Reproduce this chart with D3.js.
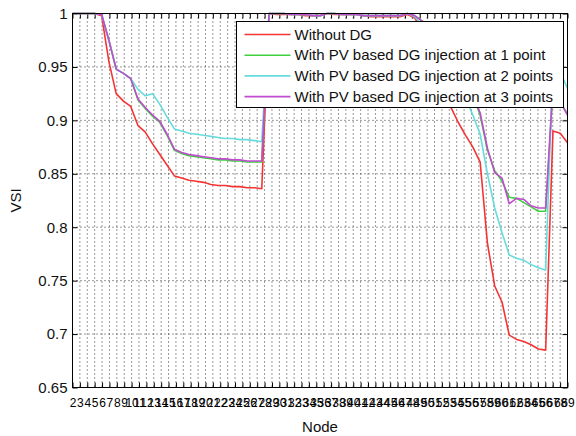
<!DOCTYPE html>
<html>
<head>
<meta charset="utf-8">
<script src="https://cdn.jsdelivr.net/npm/d3@7"></script>
<style>
  body { margin: 0; background: #fff; }
  text { font-family: "Liberation Sans", Arial, sans-serif; fill: #111; }
</style>
</head>
<body>
<div id="chart"></div>
<script>
// Node numbers (x data)
const nodes = [1, 2, 3, 4, 5, 6, 7, 8, 9, 10, 11, 12, 13, 14, 15, 16, 17, 18, 19, 20,
  21, 22, 23, 24, 25, 26, 27, 28, 29, 30, 31, 32, 33, 34, 35, 36, 37, 38, 39, 40,
  41, 42, 43, 44, 45, 46, 47, 48, 49, 50, 51, 52, 53, 54, 55, 56, 57, 58, 59, 60,
  61, 62, 63, 64, 65, 66, 67, 68, 69];

// tick labels along the bottom
const xTickLabels = nodes.slice(1);
const yTicks = [0.65, 0.7, 0.75, 0.8, 0.85, 0.9, 0.95, 1];

// VSI values, node 1..69
const withoutDG = [
  1.000, 1.000, 1.000, 1.000, 0.998, 0.955, 0.925, 0.918, 0.913, 0.895,
  0.889, 0.878, 0.868, 0.858, 0.848, 0.846, 0.844, 0.843, 0.842, 0.840,
  0.839, 0.839, 0.838, 0.838, 0.837, 0.837, 0.836, 1.000, 0.999, 0.999,
  0.999, 0.999, 0.998, 0.998, 0.998, 1.000, 0.999, 0.999, 0.999, 0.999,
  0.998, 0.997, 0.997, 0.997, 0.997, 0.997, 0.999, 0.996, 0.985, 0.975,
  0.945, 0.925, 0.912, 0.898, 0.886, 0.875, 0.861, 0.785, 0.745, 0.730,
  0.699, 0.695, 0.693, 0.690, 0.686, 0.685, 0.890, 0.888, 0.879];

const pv1 = [
  1.000, 1.000, 1.000, 1.000, 0.999, 0.975, 0.948, 0.944, 0.939, 0.919,
  0.911, 0.904, 0.898, 0.886, 0.872, 0.869, 0.867, 0.866, 0.865, 0.864,
  0.863, 0.863, 0.862, 0.862, 0.861, 0.861, 0.861, 1.000, 1.000, 1.000,
  0.999, 0.999, 0.999, 0.998, 0.998, 1.000, 1.000, 0.999, 0.999, 0.999,
  0.998, 0.998, 0.998, 0.998, 0.998, 0.998, 1.000, 0.998, 0.993, 0.990,
  0.985, 0.975, 0.962, 0.948, 0.935, 0.923, 0.905, 0.872, 0.853, 0.843,
  0.828, 0.827, 0.823, 0.819, 0.815, 0.815, 0.930, 0.917, 0.906];

const pv2 = [
  1.000, 1.000, 1.000, 1.000, 0.999, 0.975, 0.948, 0.944, 0.939, 0.929,
  0.923, 0.925, 0.915, 0.903, 0.892, 0.890, 0.888, 0.887, 0.886, 0.885,
  0.884, 0.883, 0.883, 0.882, 0.882, 0.881, 0.880, 1.000, 1.000, 1.000,
  0.999, 0.999, 0.999, 0.998, 0.998, 1.000, 1.000, 0.999, 0.999, 0.999,
  0.998, 0.998, 0.998, 0.998, 0.998, 0.998, 1.000, 0.997, 0.990, 0.985,
  0.980, 0.968, 0.955, 0.938, 0.920, 0.905, 0.887, 0.850, 0.818, 0.795,
  0.774, 0.771, 0.769, 0.765, 0.762, 0.760, 0.955, 0.945, 0.930];

const pv3 = [
  1.000, 1.000, 1.000, 1.000, 0.999, 0.975, 0.948, 0.944, 0.939, 0.920,
  0.912, 0.905, 0.899, 0.887, 0.873, 0.870, 0.868, 0.867, 0.866, 0.865,
  0.864, 0.864, 0.863, 0.863, 0.862, 0.862, 0.862, 1.000, 1.000, 1.000,
  0.999, 0.999, 0.999, 0.998, 0.998, 1.000, 1.000, 0.999, 0.999, 0.999,
  0.998, 0.998, 0.998, 0.998, 0.998, 0.998, 1.000, 0.998, 0.993, 0.990,
  0.986, 0.976, 0.963, 0.949, 0.936, 0.924, 0.907, 0.874, 0.851, 0.846,
  0.822, 0.827, 0.826, 0.820, 0.818, 0.818, 0.932, 0.917, 0.905];

const seriesNames = ["Without DG", "With PV based DG injection at 1 point",
  "With PV based DG injection at 2 points", "With PV based DG injection at 3 points"];
const seriesValues = [withoutDG, pv1, pv2, pv3];
const seriesColors = ["#f43434", "#3fcf3f", "#66dcdc", "#c04cd0"];

// layout
const W = 576, H = 436;
const margin = { left: 72.5, top: 13.5 };
const width = 495, height = 374;

const svg = d3.select("#chart").append("svg")
  .attr("width", W)
  .attr("height", H);

const g = svg.append("g")
  .attr("transform", `translate(${margin.left},${margin.top})`);

const x = d3.scaleLinear().domain([1, 69]).range([0, width]);
const xTick = d3.scalePoint().domain(xTickLabels).range([0, width]);
const y = d3.scaleLinear().domain([0.65, 1]).range([height, 0]);

// dotted grid
g.append("g").selectAll("line")
  .data(xTickLabels)
  .join("line")
  .attr("x1", d => xTick(d)).attr("x2", d => xTick(d))
  .attr("y1", 0).attr("y2", height)
  .attr("stroke", "#333")
  .attr("stroke-width", 1)
  .attr("stroke-dasharray", "1,3");

g.append("g").selectAll("line")
  .data(yTicks)
  .join("line")
  .attr("x1", 0).attr("x2", width)
  .attr("y1", d => y(d)).attr("y2", d => y(d))
  .attr("stroke", "#333")
  .attr("stroke-width", 1)
  .attr("stroke-dasharray", "1,3");

// axes, ticks pointing inward like matlab
const xAxis = g.append("g")
  .attr("transform", `translate(0,${height})`)
  .call(d3.axisBottom(xTick).tickSizeInner(-5).tickSizeOuter(0).tickPadding(11));
xAxis.select(".domain").remove();
xAxis.selectAll("text").style("font-size", "12px").style("fill", "#000");

g.append("g")
  .call(d3.axisTop(xTick).tickSizeInner(-5).tickSizeOuter(0).tickFormat(""))
  .select(".domain").remove();

const yAxis = g.append("g")
  .call(d3.axisLeft(y).tickValues(yTicks).tickSizeInner(-5).tickSizeOuter(0).tickPadding(5)
    .tickFormat(d => String(+d.toFixed(2))));
yAxis.select(".domain").remove();
yAxis.selectAll("text").style("font-size", "15px");

g.append("g")
  .attr("transform", `translate(${width},0)`)
  .call(d3.axisRight(y).tickValues(yTicks).tickSizeInner(-5).tickSizeOuter(0).tickFormat(""))
  .select(".domain").remove();

// lines
const line = d3.line()
  .x((d, i) => x(nodes[i]))
  .y(d => y(d));

g.append("g").selectAll("path")
  .data(seriesValues)
  .join("path")
  .attr("d", line)
  .attr("fill", "none")
  .attr("stroke", (d, i) => seriesColors[i])
  .attr("stroke-width", 1.6)
  .attr("stroke-linejoin", "round");

// plot box
g.append("rect")
  .attr("width", width)
  .attr("height", height)
  .attr("fill", "none")
  .attr("stroke", "#000")
  .attr("stroke-width", 1);

// axis titles
svg.append("text")
  .attr("x", margin.left + width / 2)
  .attr("y", 432)
  .attr("text-anchor", "middle")
  .style("font-size", "15px")
  .text("Node");

svg.append("text")
  .attr("transform", `translate(20.5,${margin.top + height / 2}) rotate(-90)`)
  .attr("text-anchor", "middle")
  .style("font-size", "15px")
  .text("VSI");

// legend
const legend = svg.append("g").attr("transform", "translate(236.5,21.5)");
legend.append("rect")
  .attr("width", 327)
  .attr("height", 86)
  .attr("fill", "#fff")
  .attr("stroke", "#000");

const item = legend.selectAll("g.item")
  .data(seriesNames)
  .join("g")
  .attr("class", "item")
  .attr("transform", (d, i) => `translate(0,${13 + i * 20.7})`);

item.append("line")
  .attr("x1", 8).attr("x2", 54)
  .attr("stroke", (d, i) => seriesColors[i])
  .attr("stroke-width", 1.6);

item.append("text")
  .attr("x", 58)
  .attr("dy", "0.35em")
  .style("font-size", "15px")
  .text(d => d);
</script>
</body>
</html>
